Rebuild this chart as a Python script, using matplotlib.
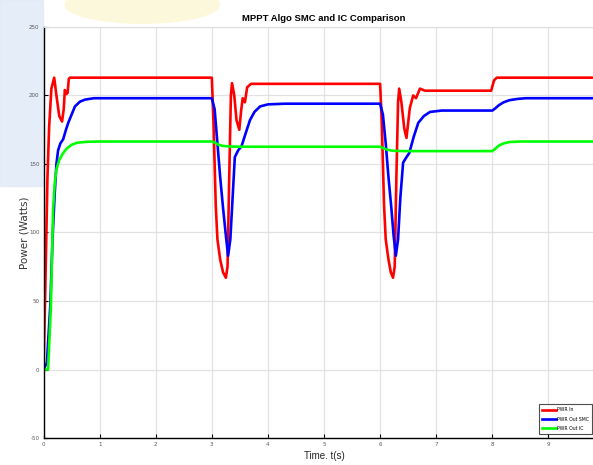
import matplotlib
matplotlib.use('Agg')
import matplotlib.pyplot as plt
from matplotlib import font_manager
from matplotlib.patches import Rectangle, Ellipse

# values (time in s, power in W)
t_in = [0, 0.03, 0.07, 0.1, 0.14, 0.19, 0.23, 0.28, 0.33, 0.36, 0.38, 0.41, 0.43, 0.45, 0.47, 0.55,
        3.0, 3.03, 3.07, 3.1, 3.15, 3.2, 3.25, 3.28, 3.31, 3.34, 3.36, 3.4, 3.44, 3.49, 3.52, 3.55,
        3.59, 3.63, 3.7,
        6.0, 6.03, 6.07, 6.1, 6.15, 6.19, 6.23, 6.26, 6.29, 6.32, 6.34, 6.38, 6.43, 6.47, 6.5, 6.53,
        6.59, 6.64, 6.71, 6.8, 7.98, 8.03, 8.08, 10]
p_in = [0, 56, 140, 177, 205, 213, 200, 185, 181, 190, 204, 201, 202, 212, 213, 213,
        213, 180, 120, 95, 80, 71, 67, 75, 140, 200, 209, 200, 182, 175, 188, 198,
        195, 206, 208.5,
        208.5, 180, 120, 95, 80, 71, 67, 75, 140, 195, 205, 195, 176, 169, 180, 191,
        200, 198, 205, 203.5, 203.5, 211, 213, 213]

t_smc = [0, 0.06, 0.12, 0.16, 0.2, 0.23, 0.26, 0.3, 0.35, 0.4, 0.44, 0.5, 0.56, 0.65, 0.74, 0.9,
         1.2, 3.0, 3.05, 3.1, 3.15, 3.2, 3.25, 3.29, 3.33, 3.37, 3.41, 3.47, 3.53, 3.6, 3.68, 3.76,
         3.86, 4.0, 4.3, 6.0, 6.05, 6.1, 6.15, 6.2, 6.24, 6.28, 6.32, 6.36, 6.41, 6.47, 6.52, 6.6,
         6.68, 6.78, 6.89, 7.1, 8.0, 8.05, 8.12, 8.2, 8.3, 8.45, 8.6, 8.8, 10]
p_smc = [0, 5, 46, 95, 129, 150, 160, 165, 168, 175, 180, 186, 192, 195.5, 197, 198,
         198, 198, 190, 165, 140, 118, 98, 83, 95, 125, 155, 160, 163, 172, 182, 188,
         192, 193.5, 194, 194, 186, 165, 140, 118, 98, 83, 95, 125, 151, 155, 158, 170,
         180, 185, 188, 189, 189, 190.5, 193, 195, 196.5, 197.5, 198, 198, 198]

t_ic = [0, 0.08, 0.13, 0.17, 0.2, 0.23, 0.28, 0.35, 0.42, 0.5, 0.6, 0.77, 1.0,
        3.0, 3.06, 3.12, 3.2, 3.3, 3.5, 6.0, 6.06, 6.12, 6.2, 6.3, 6.5,
        8.0, 8.05, 8.12, 8.2, 8.3, 8.5, 10]
p_ic = [0, 0, 44, 117, 136, 146, 153, 158, 161.5, 164, 165.5, 166.2, 166.4,
        166.4, 165.5, 164, 163.2, 162.8, 162.6, 162.6, 161.5, 160.5, 159.8, 159.5, 159.4,
        159.4, 161, 163.5, 165, 166, 166.4, 166.4]

labels = ['PWR In', 'PWR Out SMC', 'PWR Out IC']
x_ticks = list(range(0, 10))
y_ticks = [-50, 0, 50, 100, 150, 200, 250]

plt.rcParams['axes.unicode_minus'] = False

# condensed font if there is one, else shrink the normal one
installed = {f.name for f in font_manager.fontManager.ttflist}
if 'Liberation Sans Narrow' in installed:
    narrow, title_size, xlab_size = 'Liberation Sans Narrow', 8, 8.5
else:
    narrow, title_size, xlab_size = 'Liberation Sans', 6.8, 7

fig = plt.figure(figsize=(5.93, 4.65), dpi=100)

# faint background picture behind the figure
fig.patches.append(Rectangle((0, 0.6), 0.073, 0.4, transform=fig.transFigure,
                             color='#dfe9f7', alpha=0.8, zorder=-5))
fig.patches.append(Ellipse((0.24, 0.99), 0.26, 0.08, transform=fig.transFigure,
                           color='#fcf8d8', alpha=0.9, zorder=-5))

ax = fig.add_axes([0.0734, 0.058, 0.946, 0.884])

ax.plot(t_in, p_in, color='#ff0000', lw=1.9, label=labels[0])
ax.plot(t_smc, p_smc, color='#0000ff', lw=1.9, label=labels[1])
ax.plot(t_ic, p_ic, color='#00ff00', lw=1.9, label=labels[2])

ax.set_xlim(0, 10)
ax.set_ylim(-50, 250)
ax.set_xticks(x_ticks)
ax.set_yticks(y_ticks)
ax.grid(True, color='#e2e2e2', lw=0.9)
ax.set_axisbelow(True)
ax.tick_params(direction='in', length=3, width=0.8, labelsize=4, labelcolor='#555555', pad=3)
for s in ['top', 'right']:
    ax.spines[s].set_color('#dddddd')
for s in ['left', 'bottom']:
    ax.spines[s].set_linewidth(1.0)

ax.set_title('MPPT Algo SMC and IC Comparison', fontsize=title_size, fontweight='bold',
             family=narrow, pad=4)
ax.set_xlabel('Time. t(s)', fontsize=xlab_size, family=narrow, color='#222222', labelpad=3)
ax.set_ylabel('Power (Watts)', fontsize=7.5, color='#333333', labelpad=0)
ax.yaxis.set_label_coords(-0.025, 0.5)

leg = ax.legend(loc='lower right', bbox_to_anchor=(0.978, 0.01), fontsize=3.3,
                frameon=True, fancybox=False, edgecolor='#222222', handlelength=3,
                borderpad=0.7, labelspacing=0.9, handletextpad=0.3, borderaxespad=0.0)
leg.get_frame().set_linewidth(0.8)

fig.savefig('out.png', dpi=100)
